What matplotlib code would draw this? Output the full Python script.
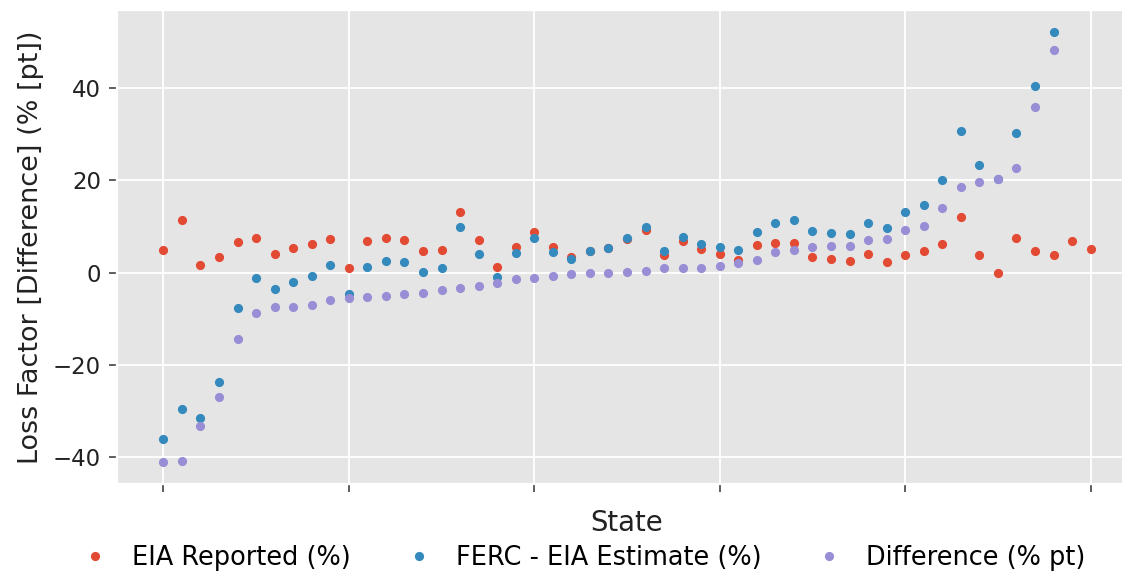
import numpy as np
import matplotlib
matplotlib.use("Agg")
import matplotlib.pyplot as plt

plt.style.use("ggplot")

# States ordered by the loss-factor difference (51 states, index only)
state_idx = list(range(51))

eia_reported = [
    5.0, 11.3, 1.7, 3.3, 6.6, 7.5, 4.0, 5.4, 6.3, 7.3,
    0.9, 6.8, 7.5, 7.0, 4.6, 4.9, 13.1, 7.0, 1.3, 5.5,
    8.7, 5.5, 3.4, 4.7, 5.4, 7.3, 9.3, 3.8, 6.8, 5.2,
    4.1, 2.7, 5.9, 6.4, 6.4, 3.3, 2.9, 2.5, 4.0, 2.2,
    3.8, 4.6, 6.2, 12.1, 3.8, 0.0, 7.5, 4.6, 3.9, 6.8,
    5.1,
]

ferc_eia_estimate = [
    -36.1, -29.6, -31.5, -23.6, -7.7, -1.1, -3.5, -2.1, -0.7, 1.7,
    -4.7, 1.3, 2.5, 2.2, 0.1, 1.0, 9.9, 4.0, -0.9, 4.2,
    7.5, 4.4, 2.9, 4.6, 5.3, 7.5, 9.8, 4.6, 7.8, 6.2,
    5.5, 4.8, 8.8, 10.8, 11.4, 9.0, 8.6, 8.3, 10.8, 9.6,
    13.1, 14.7, 20.0, 30.7, 23.4, 20.3, 30.2, 40.5, 52.2, np.nan,
    np.nan,
]

difference = [
    -41.1, -40.8, -33.3, -26.9, -14.4, -8.7, -7.5, -7.5, -7.0, -5.9,
    -5.6, -5.3, -5.0, -4.6, -4.5, -3.8, -3.3, -2.8, -2.2, -1.3,
    -1.1, -0.8, -0.4, -0.1, -0.1, 0.1, 0.4, 0.9, 0.9, 0.9,
    1.4, 2.1, 2.7, 4.4, 5.0, 5.6, 5.7, 5.8, 7.0, 7.3,
    9.3, 10.1, 13.9, 18.6, 19.6, 20.3, 22.7, 35.9, 48.3, np.nan,
    np.nan,
]

series = [
    ("EIA Reported (%)", eia_reported),
    ("FERC - EIA Estimate (%)", ferc_eia_estimate),
    ("Difference (% pt)", difference),
]

fig = plt.figure(figsize=(1122 / 165, 573 / 165), dpi=165)
ax = fig.add_axes([117 / 1122, 89 / 573, 1020 / 1122, 474 / 573])

for label, values in series:
    ax.plot(state_idx, values, marker=".", linestyle="none", label=label)

ax.set_xticks(range(0, 51, 10))
ax.set_xticklabels([])
ax.set_yticks([-40, -20, 0, 20, 40])
ax.set_xlabel("State", fontsize=12, color="#222222")
ax.set_ylabel("Loss Factor [Difference] (% [pt])", fontsize=11.8, color="#222222")
ax.tick_params(axis="y", labelsize=10, labelcolor="#222222")

handles, labels = ax.get_legend_handles_labels()
fig.legend(handles, labels, loc="center", bbox_to_anchor=(0.519, 1 - 558 / 573),
           ncol=3, frameon=False, fontsize=11.2, numpoints=1,
           handlelength=1.28, columnspacing=2.0)

fig.savefig("out.png", dpi=165)
